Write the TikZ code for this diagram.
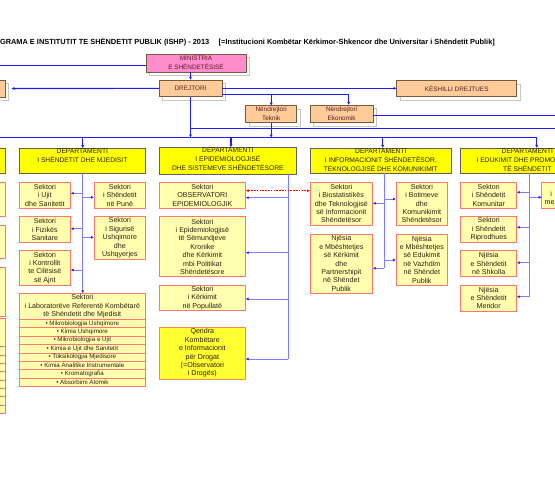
\documentclass[tikz,border=0pt]{standalone}
\usepackage{fontspec}
\setmainfont{Liberation Sans}
\usetikzlibrary{arrows.meta,calc}
\definecolor{orgblue}{RGB}{30,30,250}
\definecolor{spblue}{RGB}{125,125,255}
\definecolor{pinkf}{RGB}{255,140,205}
\definecolor{orangef}{RGB}{255,204,153}
\definecolor{topd}{RGB}{120,90,60}
\definecolor{secf}{RGB}{255,255,175}
\definecolor{secd}{RGB}{250,120,110}
\definecolor{deptf}{RGB}{255,255,0}
\definecolor{qf}{RGB}{255,255,50}
\definecolor{qd}{RGB}{240,140,80}
\definecolor{txt}{RGB}{45,30,20}
\definecolor{toptxt}{RGB}{90,25,35}
\newcommand\bx[7]{\node[#2,anchor=north west,minimum width={#5pt-(#3pt)},minimum height={#6pt-(#4pt)}] (#1) at (#3,#4) {#7};}
\newcommand\bxs[7]{\draw[shadowline] (#3+3.5,#4+3.5) rectangle (#5+3.5,#6+3.5);\bx{#1}{#2}{#3}{#4}{#5}{#6}{#7}}
\tikzset{
  base/.style={inner sep=0pt,outer sep=0pt,align=center},
  topbox/.style={base,draw=topd,fill=orangef,line width=0.8pt,text=toptxt,font=\fontsize{6.4}{9}\selectfont},
  minbox/.style={topbox,fill=pinkf},
  deptbox/.style={base,draw=gray!75!black,fill=deptf,line width=1pt},
  depttext/.style={base,text=txt,font=\fontsize{6.7}{9}\selectfont},
  secbox/.style={base,draw=secd,fill=secf,line width=0.8pt,text=txt,font=\fontsize{7.1}{8.4}\selectfont},
  rowbox/.style={secbox,font=\fontsize{6.2}{7}\selectfont},
  qbox/.style={secbox,fill=qf,draw=qd},
  org/.style={draw=orgblue,line width=1.2pt},
  orgarr/.style={org,-{Latex[length=3.2pt,width=3.2pt]}},
  sp/.style={draw=spblue,line width=0.8pt},
  sparr/.style={sp,-{Latex[length=3pt,width=3pt,color=orgblue]}},
  shadowline/.style={draw=gray!45,line width=0.8pt}
}
\begin{document}
\begin{tikzpicture}[x=1pt,y=-1pt]
\useasboundingbox (0,0) rectangle (555,480);
\clip (0,0) rectangle (555,480);
% title
\node[base,anchor=west,text=black,font=\bfseries\fontsize{7.4}{8}\selectfont] (title) at (0,42) {GRAMA E INSTITUTIT TE SHËNDETIT PUBLIK (ISHP) - 2013\quad\ [=Institucioni Kombëtar Kërkimor-Shkencor dhe Universitar i Shëndetit Publik]};
% top boxes
\bxs{min}{minbox}{146}{54}{246}{72}{MINISTRIA\\E SHËNDETËSISË}
\bxs{dr}{topbox}{159}{80}{222}{96.7}{DREJTORI}
\bxs{ksh}{topbox}{396.7}{80.7}{516.7}{96.7}{KËSHILLI DREJTUES}
\bxs{lb}{topbox}{-60}{80}{5.3}{97}{}
\bxs{nt}{topbox}{245.7}{105.7}{296.7}{122.7}{Nëndrejtori\\Teknik}
\bxs{ne}{topbox}{310}{105}{373.3}{122.7}{Nëndrejtori\\Ekonomik}
% departments
\bx{d0}{deptbox}{-60}{148}{5.7}{173.3}{}
\bx{d1}{deptbox}{19}{148.3}{145.7}{173.3}{}
\bx{d2}{deptbox}{159}{147.3}{296.7}{174.3}{}
\bx{d3}{deptbox}{310}{148}{451.7}{173.3}{}
\bx{d4}{deptbox}{460.7}{148}{594}{173.3}{}
\node[depttext,anchor=north] (d1t) at ([yshift=-0.6pt]d1.north) {DEPARTAMENTI\\I SHËNDETIT DHE MJEDISIT};
\node[depttext,anchor=north] (d2t) at ([yshift=-0.6pt]d2.north) {DEPARTAMENTI\\I EPIDEMIOLOGJISË\\DHE SISTEMEVE SHËNDETËSORE};
\node[depttext,anchor=north] (d3t) at ([yshift=-0.6pt]d3.north) {DEPARTAMENTI\\I INFORMACIONIT SHËNDETËSOR,\\TEKNOLOGJISË DHE KOMUNIKIMIT};
\node[depttext,anchor=north] (d4t) at ([yshift=-0.6pt]d4.north) {DEPARTAMENTI\\I EDUKIMIT DHE PROMOCIONIT\\TË SHËNDETIT};
% left partial column
\bx{s01}{secbox}{-60}{182}{5.7}{216.7}{}
\bx{s02}{secbox}{-60}{225}{5.7}{258.3}{}
\bx{s03}{secbox}{-60}{267}{5.7}{316.7}{}
\bx{s04}{secbox}{-60}{318.3}{5.7}{346.7}{}
\foreach \i in {0,...,7} {
  \pgfmathsetmacro\ya{346.7+\i*8.33}\pgfmathsetmacro\yb{346.7+(\i+1)*8.33}
  \bx{s04r\i}{rowbox}{-60}{\ya}{5.7}{\yb}{}
}
% dept 1 sectors
\bx{s11}{secbox}{19}{182.3}{70.7}{208.3}{Sektori\\i Ujit\\dhe Sanitetit}
\bx{s12}{secbox}{94}{182.3}{145.7}{208.3}{Sektori\\i Shëndetit\\në Punë}
\bx{s13}{secbox}{19}{216.7}{70.7}{242.3}{Sektori\\i Fizikës\\Sanitare}
\bx{s14}{secbox}{94}{216.7}{145.7}{259}{Sektori\\i Sigurisë\\Ushqimore\\dhe\\Ushqyerjes}
\bx{s15}{secbox}{19}{250.7}{70.7}{285}{Sektori\\i Kontrollit\\te Cilësisë\\së Ajrit}
\bx{s16}{secbox}{19}{293.3}{145.7}{319.3}{Sektori\\i Laboratorëve Referentë Kombëtarë\\të Shëndetit dhe Mjedisit}
\foreach \t [count=\i from 0] in {Mikrobiologjia Ushqimore,Kimia Ushqimore,Mikrobiologjia e Ujit,Kimia e Ujit dhe Sanitetit,Toksikologjia Mjedisore,Kimia Analitike Instrumentale,Kromatografia,Absorbimi Atomik} {
  \pgfmathsetmacro\ya{319.3+\i*8.425}\pgfmathsetmacro\yb{319.3+(\i+1)*8.425}
  \bx{s16r\i}{rowbox}{19}{\ya}{145.7}{\yb}{• \t}
}
% dept 2 sectors
\bx{s21}{secbox}{159}{182.3}{245.7}{208.3}{Sektori\\OBSERVATORI\\EPIDEMIOLOGJIK}
\bx{s22}{secbox}{159}{216.7}{245.7}{276.7}{Sektori\\i Epidemiologjisë\\të Sëmundjeve\\Kronike\\dhe Kërkimit\\mbi Politikat\\Shëndetësore}
\bx{s23}{secbox}{159}{285}{245.7}{310.7}{Sektori\\i Kërkimit\\në Popullatë}
\bx{s24}{qbox}{159}{327.3}{245.7}{379}{Qendra\\Kombëtare\\e Informacionit\\për Drogat\\(=Observatori\\i Drogës)}
% dept 3 sectors
\bx{s31}{secbox}{310}{182.3}{372.7}{225}{Sektori\\i Biostatistikës\\dhe Teknologjisë\\së Informacionit\\Shëndetësor}
\bx{s32}{secbox}{396}{182.3}{447.7}{225}{Sektori\\i Botimeve\\dhe\\Komunikimit\\Shëndetësor}
\bx{s33}{secbox}{310}{234}{372.7}{293.3}{Njësia\\e Mbështetjes\\së Kërkimit\\dhe\\Partnershipit\\në Shëndet\\Publik}
\bx{s34}{secbox}{396}{234}{447.7}{285}{Njësia\\e Mbështetjes\\së Edukimit\\në Vazhdim\\në Shëndet\\Publik}
% dept 4 sectors
\bx{s41}{secbox}{460.7}{182.3}{516.7}{208.3}{Sektori\\i Shëndetit\\Komunitar}
\bx{s42}{secbox}{460.7}{216.7}{516.7}{242.3}{Sektori\\i Shëndetit\\Riprodhues}
\bx{s43}{secbox}{460.7}{250.7}{516.7}{276.7}{Njësia\\e Shëndetit\\në Shkolla}
\bx{s44}{secbox}{460.7}{285}{516.7}{311}{Njësia\\e Shëndetit\\Mendor}
\bx{s45}{secbox}{541.7}{182.3}{600}{208.3}{}
\node[base,anchor=base west,text=txt,font=\fontsize{7.1}{8.4}\selectfont] (s45a) at (550.3,196) {i};
\node[base,anchor=base west,text=txt,font=\fontsize{7.1}{8.4}\selectfont] (s45b) at (544.6,204.4) {me};
% organisational connectors
\coordinate (cl) at (0,65.7);
\draw[org] (cl) -- (cl -| min.west);
\draw[orgarr] (min.south -| dr.north) -- (dr.north);
\draw[orgarr] (dr.west) -- ([xshift=6pt]lb.east);
\draw[orgarr] (dr.east) -- (dr.east -| ksh.west);
\coordinate (b1) at (222,94.3);
\coordinate (b2) at (348.7,94.3);
\draw[org] (b1) -- (b2);
\draw[orgarr] (b1 -| nt.north) -- (nt.north);
\draw[orgarr] (b2) -- (b2 |- ne.north);
\coordinate (re1) at (556,115.3);
\draw[org] (ne.east |- re1) -- (re1);
\coordinate (re2) at (556,128.3);
\draw[org] (dr.south |- re2) -- (re2);
\coordinate (bus0) at (-2,137.7);
\coordinate (bus1) at (536.7,137.7);
\draw[org] (bus0) -- (bus1);
\draw[orgarr] (dr.south) -- (dr.south |- bus1);
\draw[orgarr] (nt.south) -- (nt.south |- bus1);
\draw[orgarr] (bus1) -- (bus1 |- d4.north);
\coordinate (t1) at (82.7,137.7);
\coordinate (t2) at (231,137.7);
\coordinate (t3) at (382.7,137.7);
\draw[orgarr] (t1) -- (t1 |- d1.north);
\draw[orgarr] (t2) -- (t2 |- d2.north);
\draw[orgarr] (t3) -- (t3 |- d3.north);
% department spines
\coordinate (v1) at (82.7,173.3);
\draw[sparr] (v1) -- (v1 |- s16.north);
\coordinate (v2) at (288.3,174.3);
\coordinate (v2e) at (288.3,359);
\draw[sp] (v2) -- (v2e);
\coordinate (v3) at (384.3,173.3);
\coordinate (v3e) at (384.3,268.3);
\draw[sp] (v3) -- (v3e);
\coordinate (v4) at (529.3,173.3);
\coordinate (v4e) at (529.3,296.7);
\draw[sp] (v4) -- (v4e);
\foreach \n/\a/\x/\y in {s11/east/82.7/193.3, s13/east/82.7/228.7, s15/east/82.7/270, s12/west/82.7/197.3, s14/west/82.7/237.3,
  s21/east/288.3/197.7, s22/east/288.3/252.7, s23/east/288.3/299, s24/east/288.3/359,
  s31/east/384.3/203.3, s32/west/384.3/199, s33/east/384.3/268.3, s34/west/384.3/260,
  s41/east/529.3/192.3, s42/east/529.3/227.3, s43/east/529.3/262.7, s44/east/529.3/296.7, s45/west/529.3/197.3} {
  \coordinate (j\n) at (\x,\y);
  \draw[sparr] (j\n) -- (j\n -| \n.\a);
}
% red dashed link
\coordinate (rd) at (280,190.7);
\draw[red,line width=0.6pt,dash pattern=on 1.6pt off 1.2pt,{Latex[length=3pt,width=3pt]}-{Latex[length=3pt,width=3pt]}] (rd -| s21.east) -- (rd -| s31.west);
\end{tikzpicture}
\end{document}
